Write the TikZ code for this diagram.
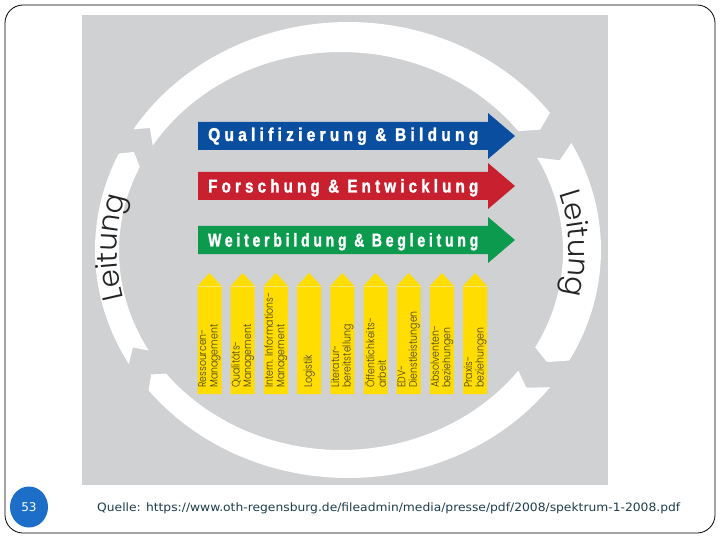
\documentclass[tikz,border=0pt]{standalone}
\usepackage{fontspec}
\usepackage{graphicx}
\usetikzlibrary{decorations.text,shapes.geometric}
\newfontfamily\bannerfont[LetterSpace=22,FakeStretch=0.8,FakeBold=1.6]{Liberation Sans Bold}
\newfontfamily\thinfont{Poppins Light}
\newfontfamily\ylabfont[FakeStretch=0.85]{Poppins Light}
\newfontfamily\capfont{DejaVu Sans}
\definecolor{bggray}{RGB}{208,209,211}
\definecolor{qblue}{RGB}{10,78,160}
\definecolor{fred}{RGB}{200,32,46}
\definecolor{wgreen}{RGB}{12,155,78}
\definecolor{yel}{RGB}{255,221,0}
\definecolor{yline}{RGB}{248,232,120}
\definecolor{ytext}{RGB}{70,60,22}
\definecolor{leitcol}{RGB}{35,35,35}
\definecolor{pgblue}{RGB}{28,110,200}
\definecolor{capcol}{RGB}{30,60,75}
% ring segment: tail angle, head angle (clockwise on screen)
\newcommand\ringseg[2]{%
 \fill[white] plot[domain=#1:#2, samples=60] ({348+253*cos(\x)},{250+228*sin(\x)})
   -- ({344.5+237.5*cos(#2+2.5)},{250.5+213.5*sin(#2+2.5)})
   -- plot[domain=#2:#1, samples=60] ({341+222*cos(\x)},{251+199*sin(\x)})
   -- ({344.5+237.5*cos(#1+3)},{250.5+213.5*sin(#1+3)}) -- cycle;}
\newcommand\hbanner[2]{%
 \fill[#2] (198,#1-14) -- (488,#1-14) -- (488,#1-23) -- (515,#1) -- (488,#1+23) -- (488,#1+14) -- (198,#1+14) -- cycle;}
\newcommand\yarrow[1]{%
 \fill[yel] (#1-12,394) -- (#1-12,286) -- (#1,273) -- (#1+12,286) -- (#1+12,394) -- cycle;
 \draw[yline, line width=1pt] (#1-12,286.5) -- (#1+12,286.5);}
\tikzset{
 ytxt/.style={rotate=90, anchor=west, align=left, inner sep=0, text=ytext, font=\ylabfont\fontsize{11}{11.5}\selectfont},
 bantxt/.style={anchor=base west, inner sep=0, text=white}
}
\begin{document}
\begin{tikzpicture}[x=1pt,y=-1pt]
\useasboundingbox (0,0) rectangle (720,540);
\fill[white] (0,0) rectangle (720,540);
\draw[line width=0.8pt, rounded corners=18pt] (5,5) rectangle (715,533);
\fill[bggray] (82,15) rectangle (608,485);
% ring
\ringseg{212}{323}
\ringseg{332}{389}
\ringseg{37}{142}
\ringseg{150}{205}
% Leitung texts
\path[decorate, decoration={text along path, text align=center,
  text={|\thinfont\fontsize{29}{29}\selectfont\color{leitcol}|Leitung}}]
  plot[domain=158:204, samples=60] ({343+226*cos(\x)},{251+203*sin(\x)});
\path[decorate, decoration={text along path, text align=center,
  text={|\thinfont\fontsize{29}{29}\selectfont\color{leitcol}|Leitung}}]
  plot[domain=335:381, samples=60] ({343+226*cos(\x)},{251+203*sin(\x)});
% banners
\hbanner{136}{qblue}
\hbanner{186}{fred}
\hbanner{240}{wgreen}
\node[bantxt] (qb) at (208,141) {\resizebox{270pt}{\height}{\bannerfont\fontsize{18.5}{18.5}\selectfont Qualifizierung \& Bildung}};
\node[bantxt] (fe) at (208,192.5) {\resizebox{270pt}{\height}{\bannerfont\fontsize{18.5}{18.5}\selectfont Forschung \& Entwicklung}};
\node[bantxt] (wb) at (208,246.5) {\resizebox{270pt}{\height}{\bannerfont\fontsize{18.5}{18.5}\selectfont Weiterbildung \& Begleitung}};
% yellow arrows
\yarrow{209.5}
\yarrow{242.7}
\yarrow{275.9}
\yarrow{309.1}
\yarrow{342.3}
\yarrow{375.5}
\yarrow{408.7}
\yarrow{441.9}
\yarrow{475.1}
\node[ytxt] (y1) at (209.5,388) {Ressourcen-\\Management};
\node[ytxt] (y2) at (242.7,388) {Qualitäts-\\Management};
\node[ytxt] (y3) at (275.9,388) {Intern. Informations-\\Management};
\node[ytxt] (y4) at (309.1,388) {Logistik};
\node[ytxt] (y5) at (342.3,388) {Literatur-\\bereitstellung};
\node[ytxt] (y6) at (375.5,388) {Öffentlichkeits-\\arbeit};
\node[ytxt] (y7) at (408.7,388) {EDV-\\Dienstleistungen};
\node[ytxt] (y8) at (441.9,388) {Absolventen-\\beziehungen};
\node[ytxt] (y9) at (475.1,388) {Praxis-\\beziehungen};
% footer
\node[ellipse, fill=pgblue, minimum width=38pt, minimum height=41pt, inner sep=0,
  text=white, font=\capfont\fontsize{12}{12}\selectfont] (pg) at (29,507) {53};
\node[anchor=base west, inner sep=0, text=capcol] (src) at (97,511.5)
  {\resizebox{583pt}{\height}{\capfont\fontsize{11.5}{13}\selectfont Quelle: https://www.oth-regensburg.de/fileadmin/media/presse/pdf/2008/spektrum-1-2008.pdf}};
\end{tikzpicture}
\end{document}
